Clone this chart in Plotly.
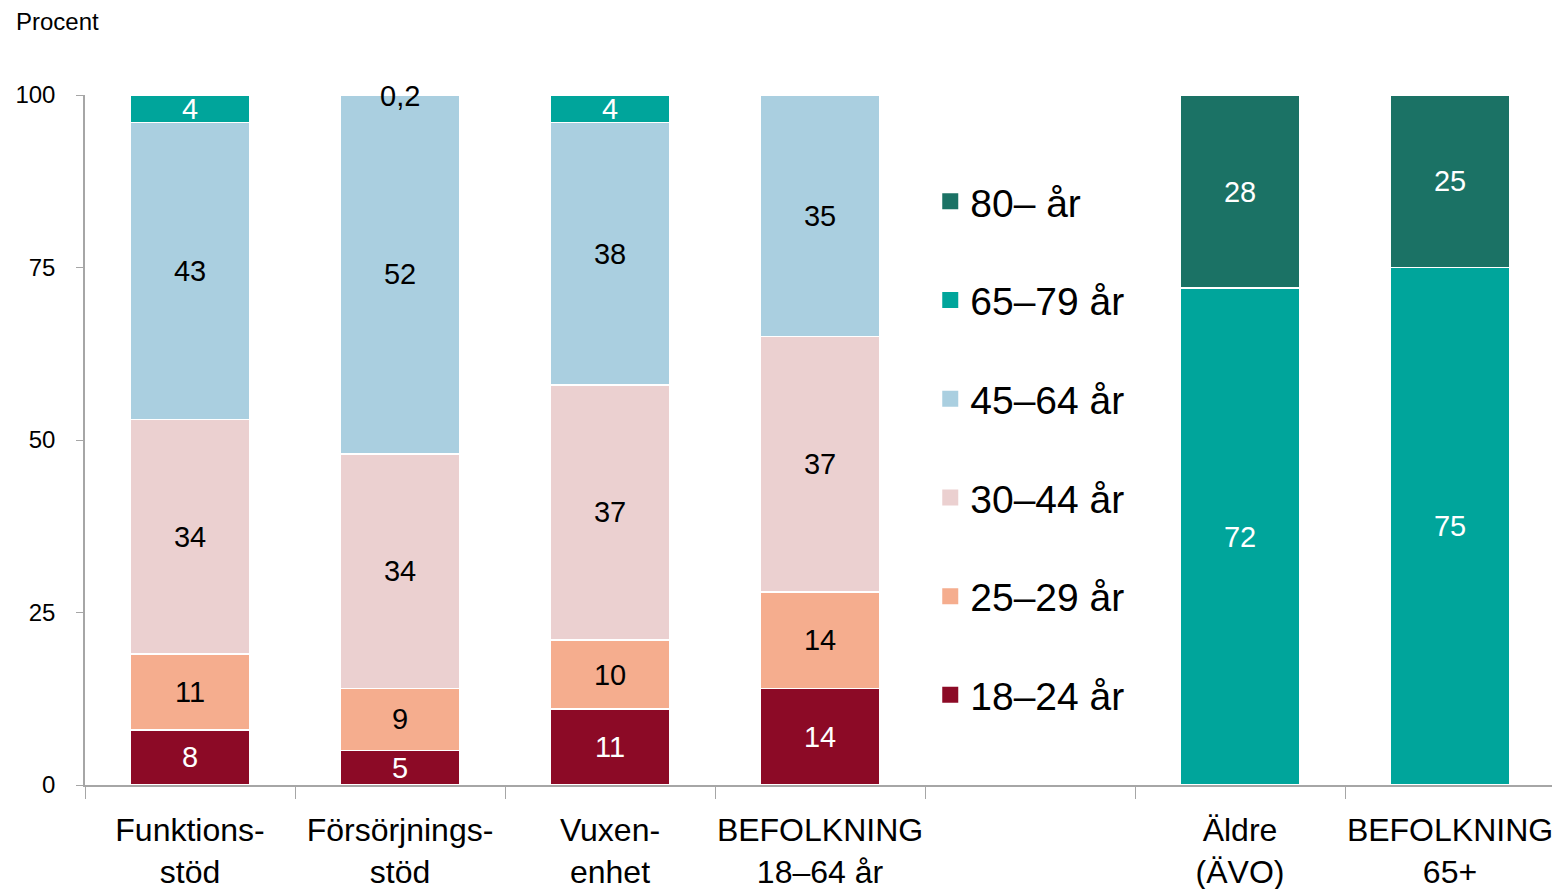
import plotly.graph_objects as go

# categories (the empty slot holds the legend)
categories = ["Funktions-<br>stöd", "Försörjnings-<br>stöd", "Vuxen-<br>enhet",
              "BEFOLKNING<br>18–64 år", " ", "Äldre<br>(ÄVO)", "BEFOLKNING<br>65+"]

age_18_24 = [8, 5, 11, 14, None, None, None]
age_25_29 = [11, 9, 10, 14, None, None, None]
age_30_44 = [34, 34, 37, 37, None, None, None]
age_45_64 = [43, 52, 38, 35, None, None, None]
age_65_79 = [4, 0.2, 4, None, None, 72, 75]
age_80 = [None, None, None, None, None, 28, 25]

series = [
    ("18–24 år", age_18_24, "#8C0A26", "white"),
    ("25–29 år", age_25_29, "#F5AD8E", "black"),
    ("30–44 år", age_30_44, "#EBD0D0", "black"),
    ("45–64 år", age_45_64, "#AACFE0", "black"),
    ("65–79 år", age_65_79, "#00A59B", "white"),
    ("80– år", age_80, "#1B7265", "white"),
]

FONT = "Liberation Sans"


def fmt(v):
    if v is None or v < 1:
        return ""
    return str(v).replace(".", ",")


fig = go.Figure()
for name, vals, col, tcol in series:
    fig.add_trace(go.Bar(
        x=categories, y=vals, name=name, showlegend=False,
        marker=dict(color=col, line=dict(color="white", width=1.5)),
        text=[fmt(v) for v in vals],
        textposition="inside", insidetextanchor="middle",
        constraintext="none", textangle=0,
        textfont=dict(color=tcol, size=29, family=FONT),
        hoverinfo="skip",
    ))

# legend entries with bigger square markers, top item = oldest group
for name, vals, col, tcol in reversed(series):
    fig.add_trace(go.Scatter(
        x=[None], y=[None], mode="markers", name=name, legendgroup=name,
        marker=dict(symbol="square", size=19, color=col),
        showlegend=True,
    ))

# small value label sitting on top of the bar
for i, v in enumerate(age_65_79):
    if v is not None and v < 1:
        fig.add_annotation(x=categories[i], y=100, text=str(v).replace(".", ","),
                           showarrow=False, yanchor="middle", yshift=-1,
                           font=dict(size=29, color="black", family=FONT))

fig.add_annotation(x=0, xref="paper", xanchor="left", xshift=-71,
                   y=1, yref="paper", yanchor="bottom", yshift=58,
                   text="Procent", showarrow=False,
                   font=dict(size=24, color="black", family=FONT))

fig.update_layout(
    barmode="stack", bargap=0.43,
    width=1552, height=881,
    margin=dict(l=77, r=5, t=87, b=104),
    plot_bgcolor="white", paper_bgcolor="white",
    font=dict(family=FONT, color="black"),
    legend=dict(
        x=0.575, y=0.892, xanchor="left", yanchor="top",
        traceorder="grouped", tracegroupgap=45,
        font=dict(size=39, family=FONT),
        itemwidth=30, bgcolor="rgba(0,0,0,0)",
    ),
)

fig.update_xaxes(
    showline=True, linecolor="#A6A6A6", linewidth=1.5,
    ticks="outside", tickson="boundaries", ticklen=12, tickcolor="#A6A6A6",
    tickfont=dict(size=32, family=FONT), ticklabelstandoff=16,
    tickangle=0, automargin=False,
)
fig.update_yaxes(
    range=[0, 100], tickvals=[0, 25, 50, 75, 100],
    showline=True, linecolor="#A6A6A6", linewidth=1.5,
    ticks="outside", ticklen=7, tickcolor="#A6A6A6",
    showgrid=False, zeroline=False, automargin=False,
    tickfont=dict(size=24, family=FONT), ticklabelstandoff=16,
)

fig.write_html("out.html")
